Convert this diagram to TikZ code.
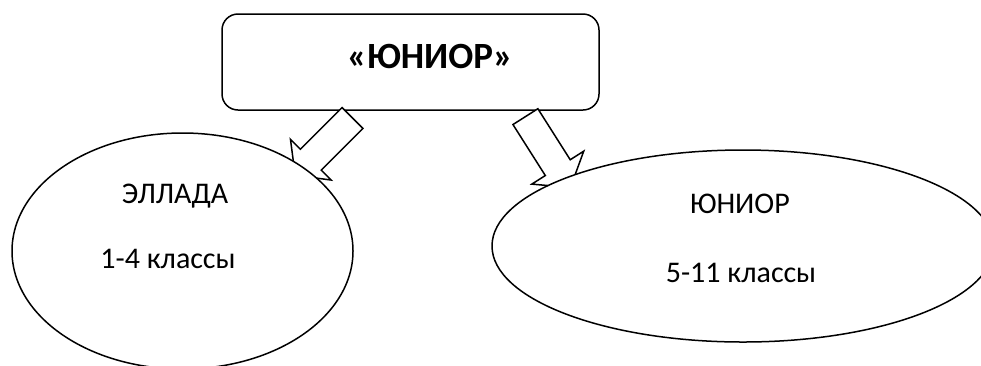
\documentclass[tikz,border=0pt]{standalone}
\usepackage{fontspec}
\setmainfont{Carlito}
\usetikzlibrary{shapes.geometric,shapes.arrows}

\begin{document}
\begin{tikzpicture}[x=1pt,y=-1pt,line width=1.5pt,
    every node/.style={font=\fontsize{30}{36}\selectfont},
    headbox/.style={draw,rounded corners=16pt,minimum width=377pt,minimum height=96pt},
    oval/.style={ellipse,draw,fill=white,inner sep=0pt},
    blockarrow/.style={single arrow,draw,fill=white,inner xsep=0pt,inner ysep=14pt,
        single arrow head extend=14pt,single arrow tip angle=105,anchor=tail}]
    \useasboundingbox (0,0) rectangle (981,365);
    % top box
    \node[headbox] (top) at (410.5,62) {};
    \node[anchor=base,font=\fontsize{37}{44}\selectfont\bfseries] (toptext) at (430,68) {«ЮНИОР»};
    % block arrows, under the ovals
    \node[blockarrow,minimum height=81pt,rotate=225] (arrleft) at (353,117.5) {};
    \node[blockarrow,minimum height=84pt,rotate=-57.6,single arrow head extend=16pt] (arrright) at (525,116) {};
    % ovals
    \node[oval,minimum width=341pt,minimum height=236pt] (ellada) at (182.5,251) {};
    \node[oval,minimum width=502pt,minimum height=192pt] (junior) at (743,246) {};
    \node[anchor=base] (elladaname) at (175,203) {ЭЛЛАДА};
    \node[anchor=base] (elladaforms) at (168,268) {1-4 классы};
    \node[anchor=base] (juniorname) at (740,213) {ЮНИОР};
    \node[anchor=base] (juniorforms) at (741,282) {5-11 классы};
\end{tikzpicture}
\end{document}
